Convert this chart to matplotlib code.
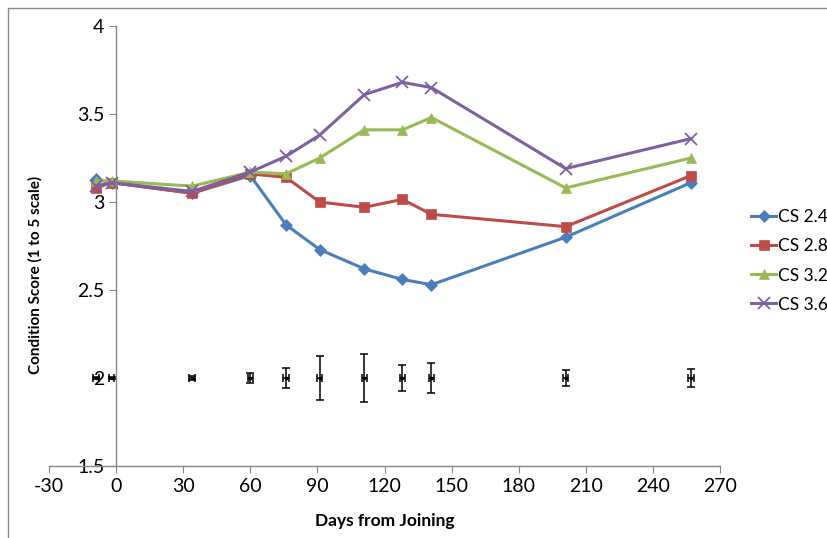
import matplotlib
matplotlib.use("Agg")
import matplotlib.pyplot as plt
from matplotlib.patches import Rectangle

# days from joining
days = [-9, -2, 34, 60, 76, 91, 111, 128, 141, 201, 257]

# condition score per group
cs24 = [3.13, 3.11, 3.05, 3.15, 2.87, 2.73, 2.62, 2.56, 2.53, 2.80, 3.11]
cs28 = [3.08, 3.11, 3.05, 3.16, 3.14, 3.00, 2.97, 3.015, 2.93, 2.86, 3.15]
cs32 = [3.12, 3.12, 3.09, 3.17, 3.16, 3.25, 3.41, 3.41, 3.48, 3.08, 3.25]
cs36 = [3.09, 3.11, 3.06, 3.17, 3.26, 3.38, 3.61, 3.68, 3.65, 3.19, 3.36]

# error bars drawn at y = 2
err_y = [2] * len(days)
sem = [0.008, 0.008, 0.01, 0.03, 0.054, 0.125, 0.134, 0.075, 0.087, 0.043, 0.05]
sem_days = [1.2] * len(days)

plt.rcParams['font.family'] = ['Lato', 'DejaVu Sans']
plt.rcParams['axes.unicode_minus'] = False

fig = plt.figure(figsize=(8.28, 5.38), dpi=100)
ax = fig.add_axes([49/828, 72/538, 671/828, 440/538])

series = [
    ("CS 2.4", cs24, '#4A7EBB', 'D', 6),
    ("CS 2.8", cs28, '#BE4B48', 's', 7),
    ("CS 3.2", cs32, '#98B954', '^', 7.5),
    ("CS 3.6", cs36, '#7D60A0', 'x', 8),
]
for name, vals, col, mk, ms in series:
    ax.plot(days, vals, color=col, lw=2.2, marker=mk, markersize=ms,
            markeredgewidth=1.3 if mk == 'x' else 0.5, markeredgecolor=col,
            label=name)

ax.errorbar(days, err_y, yerr=sem, xerr=sem_days, fmt='s', ms=2, color='black',
            ecolor='black', elinewidth=1.1, capsize=3, capthick=1.1)

ax.set_xlim(-30, 270)
ax.set_ylim(1.5, 4)
ax.set_xticks(range(-30, 271, 30))
ax.set_yticks([1.5, 2, 2.5, 3, 3.5, 4])
ax.set_yticklabels(['1.5', '2', '2.5', '3', '3.5', '4'])

for s in ['top', 'right']:
    ax.spines[s].set_visible(False)
ax.spines['left'].set_position(('data', 0))
for s in ['left', 'bottom']:
    ax.spines[s].set_color('#868686')
    ax.spines[s].set_linewidth(1.0)
ax.tick_params(axis='both', direction='out', length=5, color='#868686',
               labelsize=14, labelcolor='black')
ax.set_facecolor('none')

ax.set_xlabel('Days from Joining', fontsize=12.5, fontweight='bold', va='center')
ax.xaxis.set_label_coords(0.5007, -0.125)
ax.set_ylabel('Condition Score (1 to 5 scale)', fontsize=11, fontweight='bold', va='center')
ax.yaxis.set_label_coords(-0.021, 0.434)

ax.legend(loc='center left', bbox_to_anchor=(751/828, 1 - 261/538),
          bbox_transform=fig.transFigure, frameon=False, fontsize=12.5,
          handlelength=1.45, handletextpad=0.1, labelspacing=0.75,
          borderpad=0, borderaxespad=0)

fig.patches.append(Rectangle((8/828, -0.1), 1.2, 1 - 8/538 + 0.1, fill=False,
                             edgecolor='#898989', lw=1, transform=fig.transFigure))

plt.savefig('out.png', dpi=100)
